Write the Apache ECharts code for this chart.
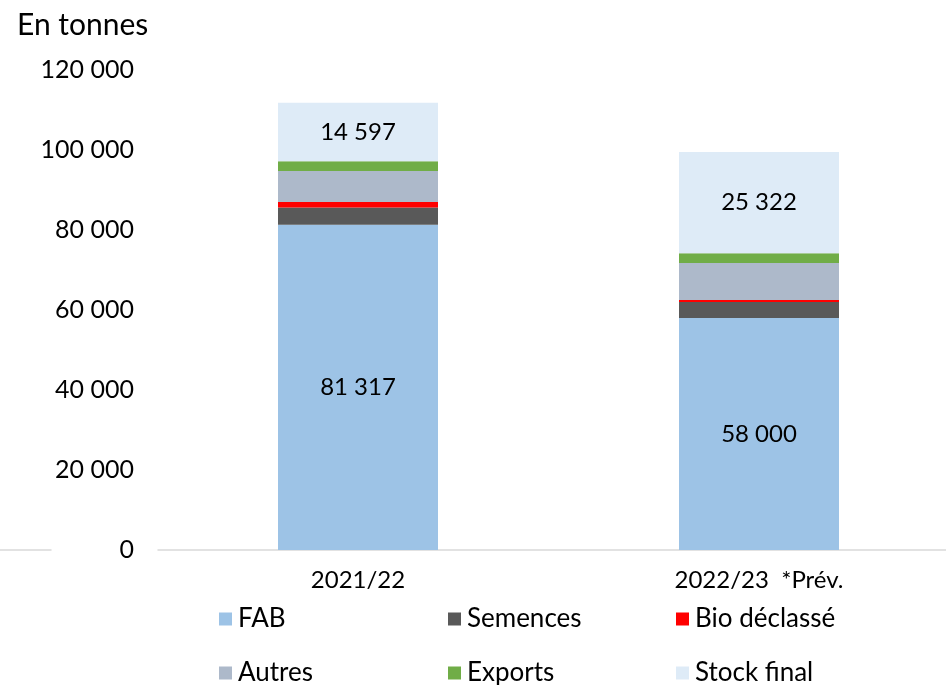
<!DOCTYPE html>
<html><head><meta charset="utf-8">
<script src="https://cdn.jsdelivr.net/npm/echarts@6/dist/echarts.min.js"></script>
<style>html,body{margin:0;padding:0;background:#fff}#c{width:946px;height:685px}</style>
</head><body><div id="c"></div>
<script>
const categories = ['2021/22', '2022/23  *Prév.'];
const seriesNames = ['FAB', 'Semences', 'Bio déclassé', 'Autres', 'Exports', 'Stock final'];
const fab = [81317, 58000];
const semences = [4300, 4000];
const bioDeclasse = [1400, 500];
const autres = [7750, 9250];
const exportsV = [2430, 2420];
const stockFinal = [14597, 25322];
const yTicks = [0, 20000, 40000, 60000, 80000, 100000, 120000];

const colors = ['#9DC3E6', '#595959', '#FF0000', '#ADB9CA', '#70AD47', '#DEEBF7'];
const values = [fab, semences, bioDeclasse, autres, exportsV, stockFinal];
const labeled = [true, false, false, false, false, true];
const FONT = 'Lato';
function fmt(v){ return String(v).replace(/\B(?=(\d{3})+(?!\d))/g, ' '); }

const legendPos = [[219,606],[448,606],[676,606],[219,660],[448,660],[676,660]];
const legends = seriesNames.map((n,i)=>({
  data:[n], left:legendPos[i][0], top:legendPos[i][1], padding:0,
  itemWidth:13, itemHeight:13, itemGap:0, icon:'rect',
  textStyle:{fontFamily:FONT, fontSize:26, color:'#000', padding:[0,0,0,1]},
  selectedMode:false
}));

const lineAxis = gi => ({type:'value', gridIndex:gi, min:0, max:1,
  axisLine:{show:true, onZero:false, lineStyle:{color:'#d9d9d9', width:1.5}},
  axisTick:{show:false}, axisLabel:{show:false}, splitLine:{show:false}});
const hiddenY = gi => ({type:'value', gridIndex:gi, min:0, max:1, show:false});

const chart = echarts.init(document.getElementById('c'), null, {renderer:'canvas'});
chart.setOption({
  animation:false,
  title:{text:'En tonnes', left:12, top:5, textStyle:{fontFamily:FONT, fontSize:30, fontWeight:'normal', color:'#000'}},
  legend: legends,
  grid:[
    {left:358, right:187, top:70, bottom:135},
    {left:0, width:51, top:70, bottom:135},
    {left:158, right:0, top:70, bottom:135}
  ],
  xAxis:[
    {type:'category', data:categories, gridIndex:0, boundaryGap:false,
     axisLine:{show:false}, axisTick:{show:false},
     axisLabel:{fontFamily:FONT, fontSize:24, color:'#000', margin:18}},
    lineAxis(1), lineAxis(2)
  ],
  yAxis:[
    {type:'value', gridIndex:0, min:yTicks[0], max:yTicks[yTicks.length-1], interval:yTicks[1]-yTicks[0],
     splitLine:{show:false}, axisLine:{show:false}, axisTick:{show:false},
     axisLabel:{fontFamily:FONT, fontSize:25, color:'#000', margin:224, formatter:v=>fmt(v)}},
    hiddenY(1), hiddenY(2)
  ],
  series: seriesNames.map((n,i)=>({
    name:n, type:'bar', stack:'s', xAxisIndex:0, yAxisIndex:0,
    data: values[i], barWidth:160,
    itemStyle:{color:colors[i]},
    label:{show:labeled[i], position:'inside', color:'#000', fontFamily:FONT, fontSize:24,
      formatter:p=>fmt(p.value)}
  }))
});
</script></body></html>
